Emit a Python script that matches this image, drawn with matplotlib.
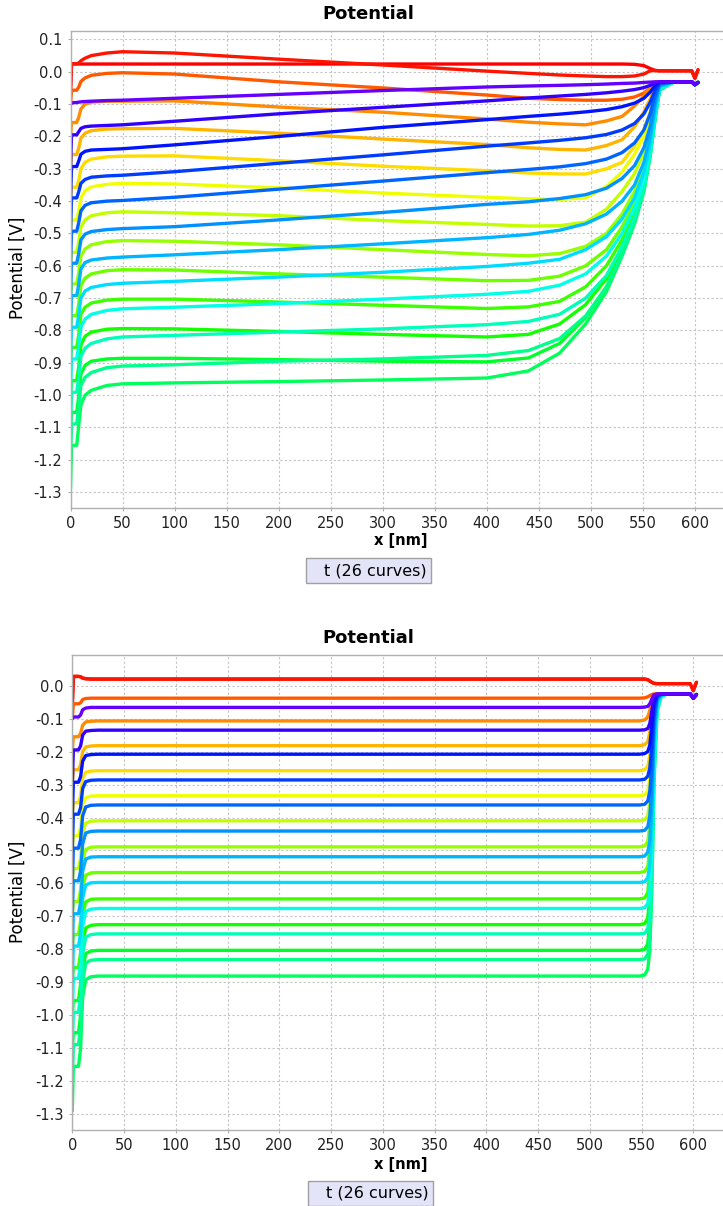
import numpy as np
import matplotlib
matplotlib.use('Agg')
import matplotlib.pyplot as plt
from matplotlib.patches import Rectangle

plt.rcParams['font.family'] = ['DejaVu Sans']
plt.rcParams['axes.unicode_minus'] = False

# sample positions along x [nm]
x_top = [0, 1, 6, 8, 10, 14, 20, 35, 50, 100, 200, 300, 400, 440, 470, 495,
         515, 530, 542, 551, 557, 562, 566, 580, 597, 600, 603]
x_bot = [0, 1, 6, 8, 10, 13, 18, 25, 300, 548, 553, 556, 558, 560, 562, 565,
         569, 575, 597, 600, 603]

# curve colours, t0 .. t24
colors = ['#ff0000', '#ff1400', '#ff5a00', '#ff8c00', '#ffb400', '#ffdc00',
          '#f0ff00', '#c3ff00', '#96ff00', '#6eff00', '#3cff00', '#14ff00',
          '#00ff28', '#00ff5a', '#00ff8c', '#00ffb9', '#00ffe6', '#00dcff',
          '#00b4ff', '#0091ff', '#0064ff', '#003cff', '#0014ff', '#3200ff',
          '#6400ff']

# ---- top panel: potential [V] at x_top ----
top_t00 = [-0.06, 0.024, 0.024, 0.024, 0.024, 0.024, 0.024, 0.024, 0.024, 0.024, 0.024, 0.024, 0.024,
           0.024, 0.024, 0.024, 0.024, 0.024, 0.023, 0.019, 0.01, 0.004, 0.003, 0.003, 0.003, -0.02, 0.006]
top_t01 = [-0.06, 0.025, 0.025, 0.027, 0.034, 0.042, 0.05, 0.058, 0.062, 0.058, 0.039, 0.021, 0.002,
           -0.005, -0.01, -0.013, -0.015, -0.015, -0.013, -0.007, 0.003, 0.004, 0.003, 0.003, 0.003, -0.02, 0.006]
top_t02 = [-0.1, -0.057, -0.057, -0.047, -0.03, -0.019, -0.011, -0.005, -0.003, -0.007, -0.031, -0.05, -0.072,
           -0.082, -0.086, -0.088, -0.088, -0.085, -0.078, -0.066, -0.05, -0.035, -0.031, -0.031, -0.031, -0.04, -0.033]
top_t03 = [-0.2, -0.157, -0.157, -0.14, -0.115, -0.1, -0.094, -0.091, -0.091, -0.09, -0.109, -0.125, -0.146,
           -0.156, -0.161, -0.164, -0.152, -0.138, -0.106, -0.075, -0.048, -0.033, -0.031, -0.031, -0.031, -0.04, -0.033]
top_t04 = [-0.3, -0.256, -0.256, -0.235, -0.205, -0.19, -0.182, -0.177, -0.176, -0.175, -0.19, -0.208, -0.225,
           -0.235, -0.24, -0.242, -0.228, -0.21, -0.17, -0.125, -0.085, -0.045, -0.033, -0.031, -0.031, -0.04, -0.033]
top_t05 = [-0.4, -0.357, -0.357, -0.335, -0.3, -0.28, -0.27, -0.263, -0.261, -0.26, -0.275, -0.292, -0.306,
           -0.313, -0.316, -0.316, -0.3, -0.28, -0.23, -0.18, -0.125, -0.065, -0.036, -0.031, -0.031, -0.04, -0.033]
top_t06 = [-0.5, -0.458, -0.458, -0.43, -0.39, -0.368, -0.356, -0.348, -0.345, -0.347, -0.359, -0.375, -0.388,
           -0.393, -0.395, -0.39, -0.355, -0.31, -0.255, -0.2, -0.14, -0.07, -0.038, -0.031, -0.031, -0.04, -0.033]
top_t07 = [-0.6, -0.558, -0.558, -0.525, -0.48, -0.458, -0.445, -0.436, -0.433, -0.436, -0.445, -0.46, -0.472,
           -0.477, -0.476, -0.465, -0.425, -0.37, -0.315, -0.25, -0.17, -0.085, -0.04, -0.031, -0.031, -0.04, -0.033]
top_t08 = [-0.7, -0.656, -0.656, -0.62, -0.57, -0.548, -0.535, -0.525, -0.522, -0.524, -0.535, -0.55, -0.565,
           -0.569, -0.562, -0.54, -0.5, -0.44, -0.37, -0.295, -0.21, -0.105, -0.045, -0.031, -0.031, -0.04, -0.033]
top_t09 = [-0.8, -0.754, -0.754, -0.715, -0.66, -0.638, -0.625, -0.615, -0.612, -0.613, -0.625, -0.635, -0.646,
           -0.645, -0.632, -0.6, -0.55, -0.48, -0.405, -0.325, -0.235, -0.12, -0.048, -0.031, -0.031, -0.04, -0.033]
top_t10 = [-0.9, -0.852, -0.852, -0.81, -0.75, -0.728, -0.715, -0.706, -0.703, -0.703, -0.712, -0.722, -0.732,
           -0.727, -0.71, -0.665, -0.6, -0.52, -0.435, -0.345, -0.245, -0.125, -0.05, -0.031, -0.031, -0.04, -0.033]
top_t11 = [-1.0, -0.955, -0.955, -0.91, -0.845, -0.818, -0.805, -0.796, -0.794, -0.795, -0.803, -0.812, -0.82,
           -0.812, -0.78, -0.72, -0.64, -0.545, -0.45, -0.355, -0.25, -0.13, -0.053, -0.031, -0.031, -0.04, -0.033]
top_t12 = [-1.1, -1.053, -1.053, -1.0, -0.935, -0.908, -0.895, -0.888, -0.886, -0.886, -0.89, -0.895, -0.897,
           -0.885, -0.84, -0.76, -0.665, -0.56, -0.46, -0.36, -0.255, -0.135, -0.055, -0.031, -0.031, -0.04, -0.033]
top_t13 = [-1.29, -1.155, -1.155, -1.09, -1.03, -1.0, -0.985, -0.97, -0.965, -0.962, -0.958, -0.953, -0.947,
           -0.925, -0.87, -0.78, -0.68, -0.57, -0.47, -0.37, -0.26, -0.14, -0.057, -0.031, -0.031, -0.04, -0.033]
top_t14 = [-1.2, -1.089, -1.089, -1.03, -0.97, -0.945, -0.93, -0.915, -0.91, -0.906, -0.895, -0.888, -0.877,
           -0.862, -0.825, -0.755, -0.665, -0.565, -0.465, -0.365, -0.26, -0.138, -0.056, -0.031, -0.031, -0.04, -0.033]
top_t15 = [-1.1, -0.991, -0.991, -0.94, -0.88, -0.855, -0.84, -0.826, -0.82, -0.815, -0.805, -0.795, -0.782,
           -0.772, -0.75, -0.7, -0.63, -0.54, -0.45, -0.355, -0.255, -0.133, -0.054, -0.031, -0.031, -0.04, -0.033]
top_t16 = [-1.0, -0.888, -0.888, -0.845, -0.79, -0.765, -0.75, -0.738, -0.733, -0.728, -0.717, -0.703, -0.688,
           -0.679, -0.66, -0.625, -0.57, -0.5, -0.42, -0.335, -0.24, -0.125, -0.05, -0.031, -0.031, -0.04, -0.033]
top_t17 = [-0.9, -0.79, -0.79, -0.75, -0.7, -0.678, -0.667, -0.658, -0.654, -0.648, -0.635, -0.62, -0.602,
           -0.592, -0.58, -0.55, -0.51, -0.455, -0.39, -0.31, -0.225, -0.115, -0.047, -0.031, -0.031, -0.04, -0.033]
top_t18 = [-0.8, -0.692, -0.692, -0.655, -0.61, -0.59, -0.582, -0.576, -0.573, -0.566, -0.55, -0.532, -0.513,
           -0.503, -0.49, -0.47, -0.44, -0.4, -0.35, -0.28, -0.2, -0.1, -0.043, -0.031, -0.031, -0.04, -0.033]
top_t19 = [-0.7, -0.592, -0.592, -0.56, -0.52, -0.502, -0.494, -0.488, -0.485, -0.479, -0.458, -0.435, -0.41,
           -0.402, -0.392, -0.38, -0.36, -0.33, -0.29, -0.235, -0.17, -0.085, -0.04, -0.031, -0.031, -0.04, -0.033]
top_t20 = [-0.6, -0.493, -0.493, -0.465, -0.43, -0.413, -0.405, -0.4, -0.398, -0.388, -0.363, -0.338, -0.312,
           -0.302, -0.294, -0.284, -0.27, -0.25, -0.22, -0.18, -0.13, -0.07, -0.037, -0.031, -0.031, -0.04, -0.033]
top_t21 = [-0.5, -0.39, -0.39, -0.37, -0.345, -0.333, -0.326, -0.322, -0.32, -0.309, -0.283, -0.257, -0.23,
           -0.22, -0.212, -0.204, -0.194, -0.18, -0.16, -0.13, -0.095, -0.055, -0.034, -0.031, -0.031, -0.04, -0.033]
top_t22 = [-0.4, -0.293, -0.293, -0.275, -0.255, -0.246, -0.242, -0.24, -0.238, -0.226, -0.2, -0.172, -0.148,
           -0.138, -0.131, -0.124, -0.117, -0.108, -0.097, -0.082, -0.063, -0.042, -0.032, -0.031, -0.031, -0.04, -0.033]
top_t23 = [-0.3, -0.195, -0.195, -0.185, -0.175, -0.17, -0.168, -0.166, -0.164, -0.153, -0.13, -0.11, -0.09,
           -0.081, -0.075, -0.07, -0.065, -0.06, -0.055, -0.049, -0.042, -0.035, -0.031, -0.031, -0.031, -0.04, -0.033]
top_t24 = [-0.1, -0.096, -0.095, -0.094, -0.093, -0.092, -0.091, -0.089, -0.088, -0.082, -0.07, -0.058, -0.047,
           -0.044, -0.042, -0.04, -0.038, -0.036, -0.035, -0.033, -0.032, -0.031, -0.031, -0.031, -0.031, -0.04, -0.033]

# ---- bottom panel: potential [V] at x_bot ----
bot_t00 = [-0.06, 0.028, 0.028, 0.027, 0.023, 0.021, 0.02, 0.02, 0.02, 0.02, 0.02, 0.018, 0.014, 0.01, 0.007, 0.006, 0.006, 0.006, 0.006, -0.015, 0.01]
bot_t01 = [-0.06, 0.028, 0.028, 0.027, 0.023, 0.021, 0.02, 0.02, 0.02, 0.02, 0.02, 0.018, 0.014, 0.01, 0.007, 0.006, 0.006, 0.006, 0.006, -0.015, 0.01]
bot_t02 = [-0.1, -0.055, -0.055, -0.052, -0.042, -0.039, -0.038, -0.038, -0.038, -0.038, -0.037, -0.034, -0.03, -0.027, -0.025, -0.025, -0.025, -0.025, -0.025, -0.038, -0.027]
bot_t03 = [-0.2, -0.155, -0.155, -0.145, -0.12, -0.11, -0.108, -0.107, -0.107, -0.107, -0.104, -0.095, -0.075, -0.045, -0.03, -0.026, -0.025, -0.025, -0.025, -0.038, -0.027]
bot_t04 = [-0.3, -0.255, -0.255, -0.24, -0.2, -0.186, -0.183, -0.182, -0.182, -0.182, -0.179, -0.17, -0.14, -0.08, -0.035, -0.027, -0.025, -0.025, -0.025, -0.038, -0.027]
bot_t05 = [-0.4, -0.355, -0.355, -0.335, -0.28, -0.263, -0.259, -0.258, -0.258, -0.258, -0.255, -0.245, -0.21, -0.12, -0.04, -0.027, -0.025, -0.025, -0.025, -0.038, -0.027]
bot_t06 = [-0.5, -0.455, -0.455, -0.43, -0.36, -0.34, -0.335, -0.334, -0.334, -0.334, -0.331, -0.32, -0.28, -0.17, -0.05, -0.028, -0.025, -0.025, -0.025, -0.038, -0.027]
bot_t07 = [-0.6, -0.555, -0.555, -0.525, -0.445, -0.417, -0.411, -0.41, -0.41, -0.41, -0.407, -0.395, -0.35, -0.22, -0.06, -0.03, -0.026, -0.025, -0.025, -0.038, -0.027]
bot_t08 = [-0.7, -0.655, -0.655, -0.62, -0.53, -0.497, -0.49, -0.489, -0.489, -0.489, -0.486, -0.473, -0.42, -0.28, -0.08, -0.032, -0.026, -0.025, -0.025, -0.038, -0.027]
bot_t09 = [-0.8, -0.755, -0.755, -0.715, -0.61, -0.575, -0.568, -0.567, -0.567, -0.567, -0.564, -0.55, -0.49, -0.33, -0.1, -0.035, -0.027, -0.025, -0.025, -0.038, -0.027]
bot_t10 = [-0.9, -0.855, -0.855, -0.81, -0.695, -0.656, -0.648, -0.647, -0.647, -0.647, -0.644, -0.628, -0.56, -0.39, -0.13, -0.04, -0.028, -0.025, -0.025, -0.038, -0.027]
bot_t11 = [-1.0, -0.955, -0.955, -0.905, -0.78, -0.735, -0.727, -0.725, -0.725, -0.725, -0.722, -0.705, -0.64, -0.45, -0.17, -0.045, -0.029, -0.025, -0.025, -0.038, -0.027]
bot_t12 = [-1.1, -1.053, -1.053, -1.0, -0.86, -0.813, -0.805, -0.803, -0.803, -0.803, -0.8, -0.783, -0.72, -0.52, -0.22, -0.055, -0.03, -0.025, -0.025, -0.038, -0.027]
bot_t13 = [-1.29, -1.155, -1.155, -1.1, -0.945, -0.892, -0.883, -0.881, -0.881, -0.881, -0.878, -0.86, -0.8, -0.6, -0.28, -0.07, -0.032, -0.025, -0.025, -0.038, -0.027]
bot_t14 = [-1.2, -1.089, -1.089, -1.035, -0.9, -0.841, -0.833, -0.831, -0.831, -0.831, -0.829, -0.815, -0.77, -0.6, -0.3, -0.08, -0.033, -0.025, -0.025, -0.038, -0.027]
bot_t15 = [-1.1, -0.991, -0.991, -0.94, -0.815, -0.763, -0.755, -0.753, -0.753, -0.753, -0.751, -0.737, -0.695, -0.54, -0.26, -0.07, -0.031, -0.025, -0.025, -0.038, -0.027]
bot_t16 = [-1.0, -0.888, -0.888, -0.845, -0.73, -0.685, -0.678, -0.676, -0.676, -0.676, -0.674, -0.66, -0.62, -0.48, -0.22, -0.06, -0.03, -0.025, -0.025, -0.038, -0.027]
bot_t17 = [-0.9, -0.79, -0.79, -0.75, -0.645, -0.605, -0.598, -0.597, -0.597, -0.597, -0.595, -0.582, -0.545, -0.42, -0.18, -0.052, -0.029, -0.025, -0.025, -0.038, -0.027]
bot_t18 = [-0.8, -0.692, -0.692, -0.657, -0.563, -0.526, -0.52, -0.519, -0.519, -0.519, -0.517, -0.505, -0.47, -0.36, -0.15, -0.045, -0.028, -0.025, -0.025, -0.038, -0.027]
bot_t19 = [-0.7, -0.592, -0.592, -0.562, -0.48, -0.447, -0.442, -0.441, -0.441, -0.441, -0.439, -0.428, -0.395, -0.3, -0.12, -0.04, -0.027, -0.025, -0.025, -0.038, -0.027]
bot_t20 = [-0.6, -0.493, -0.493, -0.467, -0.395, -0.368, -0.363, -0.362, -0.362, -0.362, -0.36, -0.35, -0.32, -0.24, -0.095, -0.035, -0.026, -0.025, -0.025, -0.038, -0.027]
bot_t21 = [-0.5, -0.39, -0.39, -0.37, -0.312, -0.291, -0.287, -0.286, -0.286, -0.286, -0.284, -0.275, -0.25, -0.18, -0.07, -0.031, -0.026, -0.025, -0.025, -0.038, -0.027]
bot_t22 = [-0.4, -0.293, -0.293, -0.276, -0.229, -0.212, -0.209, -0.208, -0.208, -0.208, -0.206, -0.2, -0.18, -0.12, -0.05, -0.028, -0.025, -0.025, -0.025, -0.038, -0.027]
bot_t23 = [-0.3, -0.195, -0.195, -0.183, -0.15, -0.138, -0.136, -0.135, -0.135, -0.135, -0.134, -0.13, -0.115, -0.075, -0.035, -0.026, -0.025, -0.025, -0.025, -0.038, -0.027]
bot_t24 = [-0.1, -0.095, -0.095, -0.089, -0.073, -0.068, -0.066, -0.066, -0.066, -0.066, -0.065, -0.063, -0.055, -0.04, -0.028, -0.025, -0.025, -0.025, -0.025, -0.038, -0.027]

top_curves = [top_t00, top_t01, top_t02, top_t03, top_t04, top_t05, top_t06,
              top_t07, top_t08, top_t09, top_t10, top_t11, top_t12, top_t13,
              top_t14, top_t15, top_t16, top_t17, top_t18, top_t19, top_t20,
              top_t21, top_t22, top_t23, top_t24]
bot_curves = [bot_t00, bot_t01, bot_t02, bot_t03, bot_t04, bot_t05, bot_t06,
              bot_t07, bot_t08, bot_t09, bot_t10, bot_t11, bot_t12, bot_t13,
              bot_t14, bot_t15, bot_t16, bot_t17, bot_t18, bot_t19, bot_t20,
              bot_t21, bot_t22, bot_t23, bot_t24]

W, H = 723.0, 1206.0
fig = plt.figure(figsize=(W / 100, H / 100), dpi=100)


def panel(rect, x, curves, ylim, xmax, yticks):
    ax = fig.add_axes([rect[0] / W, 1 - rect[3] / H, (rect[2] - rect[0]) / W,
                       (rect[3] - rect[1]) / H])
    for ys, c in zip(curves, colors):
        ax.plot(x, ys, color=c, lw=2.4, solid_joinstyle='round',
                solid_capstyle='round')
    ax.set_xlim(0, xmax)
    ax.set_ylim(*ylim)
    ax.set_xticks(np.arange(0, 601, 50))
    ax.set_yticks(yticks)
    ax.set_yticklabels(['%.1f' % (v + 0.0) for v in yticks])
    ax.grid(True, color='#c4c4c4', linestyle=(0, (2, 2)), linewidth=0.8)
    ax.set_axisbelow(True)
    for s in ['left', 'bottom', 'top']:
        ax.spines[s].set_color('#b0b0b0')
        ax.spines[s].set_linewidth(1.0)
    ax.spines['right'].set_visible(False)
    ax.tick_params(length=2, width=0.8, color='#b0b0b0', labelsize=10.5,
                   labelcolor='#222222', pad=4)
    return ax


yt_top = [round(v, 1) + 0.0 for v in np.arange(-1.3, 0.15, 0.1)]
yt_bot = [round(v, 1) + 0.0 for v in np.arange(-1.3, 0.05, 0.1)]

panel((70.5, 30.7, 723, 507.7), x_top, top_curves, (-1.348, 0.127), 627, yt_top)
panel((72.3, 655, 723, 1130), x_bot, bot_curves, (-1.348, 0.093), 628.7, yt_bot)

# titles, axis labels, legend boxes
for ty, xy, ly, box_y, lx in [(14, 541, 268, 558, 306), (638, 1165, 892, 1181, 308)]:
    fig.text(368.5 / W, 1 - ty / H, 'Potential', ha='center', va='center',
             fontsize=13, fontweight='bold')
    fig.text(401 / W, 1 - xy / H, 'x [nm]', ha='center', va='center',
             fontsize=10.5, fontweight='bold')
    fig.text(18 / W, 1 - ly / H, 'Potential [V]', ha='center', va='center',
             rotation=90, fontsize=12)
    fig.patches.append(Rectangle((lx / W, 1 - (box_y + 25) / H), 125 / W, 25 / H,
                                 transform=fig.transFigure, facecolor='#e4e4f8',
                                 edgecolor='#a0a0a0', linewidth=1.0))
    fig.text((lx + 18) / W, 1 - (box_y + 12.5) / H, 't (26 curves)',
             ha='left', va='center', fontsize=11.5)

fig.savefig('out.png', dpi=100)
